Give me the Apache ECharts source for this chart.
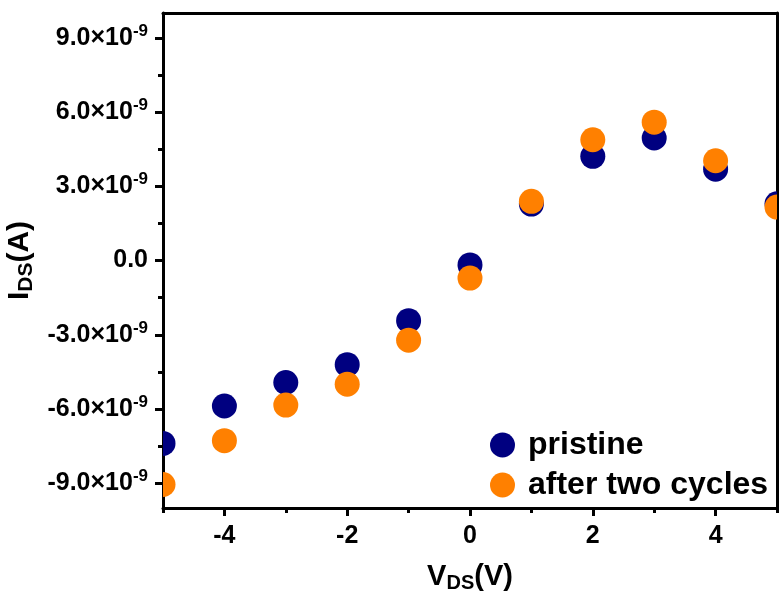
<!DOCTYPE html>
<html>
<head>
<meta charset="utf-8">
<script src="https://cdn.jsdelivr.net/npm/echarts@6/dist/echarts.min.js"></script>
<style>
  html, body { margin: 0; padding: 0; background: #fff; }
  #chart { width: 779px; height: 601px; }
</style>
</head>
<body>
<div id="chart"></div>
<script>
// Drain-source voltage (V)
const vds = [-5, -4, -3, -2, -1, 0, 1, 2, 3, 4, 5];
// Drain-source current (A), pristine device
const pristine = [-7.39e-9, -5.88e-9, -4.93e-9, -4.21e-9, -2.43e-9, -0.18e-9, 2.28e-9, 4.21e-9, 4.95e-9, 3.69e-9, 2.29e-9];
// Drain-source current (A), after two cycles
const afterTwo = [-9.05e-9, -7.28e-9, -5.84e-9, -5.0e-9, -3.22e-9, -0.71e-9, 2.39e-9, 4.88e-9, 5.59e-9, 4.03e-9, 2.16e-9];

const xMajor = [-4, -2, 0, 2, 4];
const xMinor = [-5, -3, -1, 1, 3, 5];
const yMajor = [-9e-9, -6e-9, -3e-9, 0, 3e-9, 6e-9, 9e-9];
const yMinor = [-7.5e-9, -4.5e-9, -1.5e-9, 1.5e-9, 4.5e-9, 7.5e-9];

const seriesNames = ['pristine', 'after two cycles'];
const seriesColors = ['#000080', '#ff8000'];

const FONT = '"Liberation Sans", Arial, sans-serif';
const black = '#000';
const DOT_R = 12.5;

function pair(a, b) { return a.map((v, i) => [v, b[i]]); }

function yLabel(v) {
  const m = v / 1e-9;
  if (Math.abs(m) < 1e-6) return '0.0';
  return m.toFixed(1) + '×10{sup|-9}';
}

// Filled dots, clipped to the plotting frame
function dotSeries(name, color, values) {
  return {
    name: name, type: 'custom', xAxisIndex: 0, yAxisIndex: 0,
    clip: true,
    itemStyle: { color: color },
    encode: { x: 0, y: 1 },
    data: pair(vds, values),
    renderItem: function (params, api) {
      const p = api.coord([api.value(0), api.value(1)]);
      return {
        type: 'circle',
        shape: { cx: p[0], cy: p[1], r: DOT_R },
        style: { fill: color }
      };
    }
  };
}

const chart = echarts.init(document.getElementById('chart'), null, { renderer: 'canvas' });

const frame = { color: black, width: 3 };

chart.setOption({
  animation: false,
  backgroundColor: '#fff',
  grid: { left: 163, right: 2, top: 13, bottom: 93, containLabel: false, outerBoundsMode: 'none' },
  xAxis: [
    {
      type: 'value', min: -5, max: 5, interval: 1,
      position: 'bottom',
      axisLine: { show: true, onZero: false, lineStyle: frame },
      splitLine: { show: false },
      axisTick: { show: true, customValues: xMajor, length: 8, lineStyle: { color: black, width: 3 } },
      axisLabel: {
        show: true, customValues: xMajor, margin: 16,
        fontFamily: FONT, fontWeight: 'bold', fontSize: 25, color: black
      },
      name: '{a|V}{b|DS}{a|(V)}',
      nameLocation: 'middle',
      nameGap: 52,
      nameTextStyle: {
        rich: {
          a: { fontFamily: FONT, fontWeight: 'bold', fontSize: 29, color: black },
          b: { fontFamily: FONT, fontWeight: 'bold', fontSize: 20, color: black, padding: [13, 0, 0, 0] }
        }
      }
    },
    {
      // minor ticks along the bottom edge
      type: 'value', min: -5, max: 5, position: 'bottom',
      axisLine: { show: false, onZero: false },
      splitLine: { show: false },
      axisTick: { show: true, customValues: xMinor, length: 5, lineStyle: { color: black, width: 3 } },
      axisLabel: { show: false }
    },
    {
      // top frame line
      type: 'value', min: -5, max: 5, position: 'top',
      axisLine: { show: true, onZero: false, lineStyle: frame },
      splitLine: { show: false }, axisTick: { show: false }, axisLabel: { show: false }
    }
  ],
  yAxis: [
    {
      type: 'value', min: -10e-9, max: 10e-9,
      position: 'left',
      axisLine: { show: true, onZero: false, lineStyle: frame },
      splitLine: { show: false },
      axisTick: { show: true, customValues: yMajor, length: 8, lineStyle: { color: black, width: 3 } },
      axisLabel: {
        show: true, customValues: yMajor, margin: 15,
        fontFamily: FONT, fontWeight: 'bold', fontSize: 25, color: black,
        formatter: yLabel,
        rich: {
          sup: { fontFamily: FONT, fontWeight: 'bold', fontSize: 17, color: black, padding: [0, 0, 13, 0] }
        }
      },
      name: '{a|I}{b|DS}{a|(A)}',
      nameLocation: 'middle',
      nameRotate: 90,
      nameGap: 125,
      nameTextStyle: {
        rich: {
          a: { fontFamily: FONT, fontWeight: 'bold', fontSize: 30, color: black },
          b: { fontFamily: FONT, fontWeight: 'bold', fontSize: 21, color: black, padding: [13, 0, 0, 0] }
        }
      }
    },
    {
      // minor ticks along the left edge
      type: 'value', min: -10e-9, max: 10e-9, position: 'left',
      axisLine: { show: false, onZero: false },
      splitLine: { show: false },
      axisTick: { show: true, customValues: yMinor, length: 5, lineStyle: { color: black, width: 3 } },
      axisLabel: { show: false }
    },
    {
      // right frame line
      type: 'value', min: -10e-9, max: 10e-9, position: 'right',
      axisLine: { show: true, onZero: false, lineStyle: frame },
      splitLine: { show: false }, axisTick: { show: false }, axisLabel: { show: false }
    }
  ],
  legend: {
    orient: 'vertical',
    left: 490,
    top: 429,
    padding: 0,
    icon: 'circle',
    itemWidth: 25,
    itemHeight: 25,
    itemGap: 8,
    textStyle: {
      fontFamily: FONT, fontWeight: 'bold', fontSize: 32, color: black,
      lineHeight: 32, padding: [0, 0, 0, 8]
    },
    data: seriesNames
  },
  series: [
    dotSeries(seriesNames[0], seriesColors[0], pristine),
    dotSeries(seriesNames[1], seriesColors[1], afterTwo)
  ]
});
</script>
</body>
</html>
